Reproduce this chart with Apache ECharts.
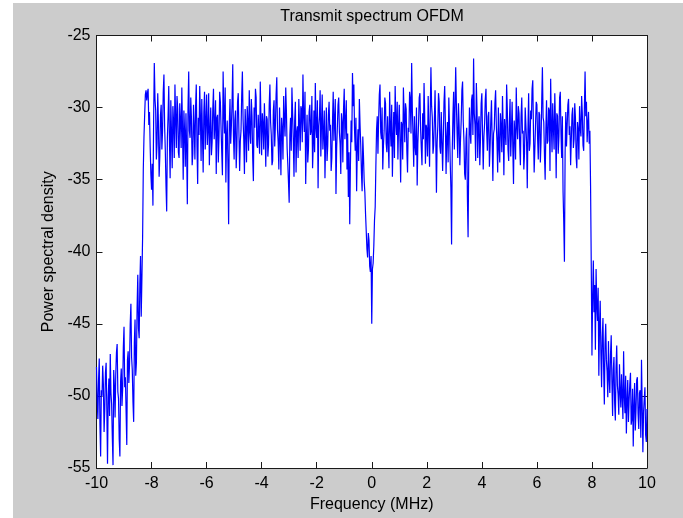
<!DOCTYPE html>
<html>
<head>
<meta charset="utf-8">
<script src="https://cdn.jsdelivr.net/npm/echarts@6/dist/echarts.min.js"></script>
<style>
  html, body { margin: 0; padding: 0; background: #fff; }
  #main { width: 683px; height: 518px; }
</style>
</head>
<body>
<div id="main"></div>
<script>
// frequency grid (MHz)
var freqStep = 0.025;
var lowSkirtStart = -10;
var bandStart = -8.3;
var highSkirtStart = 7.95;

// left out-of-band skirt, -10.000 .. -8.325
var psdLowSkirt = [
  -48.0, -50.3, -51.6, -48.9, -47.4, -52.0, -54.2, -49.6, -50.0, -47.9,
  -49.2, -52.5, -51.0, -48.4, -47.7, -50.9, -54.7, -50.1, -48.8, -51.4,
  -47.1, -49.8, -50.6, -52.9, -54.8, -48.2, -49.3, -51.5, -48.5, -47.0,
  -46.4, -49.7, -50.2, -53.0, -54.2, -49.0, -48.1, -50.7, -49.5, -46.6,
  -45.2, -49.4, -48.7, -51.1, -53.4, -47.5, -46.9, -49.1, -47.8, -45.0,
  -43.6, -47.3, -48.2, -50.4, -51.8, -46.3, -44.7, -48.6, -47.7, -43.9,
  -41.6, -45.3, -46.0, -42.2, -40.3, -44.5, -41.8, -39.0
];

// occupied band, -8.300 .. 7.925
var psdBand = [
  -34.3, -32.0, -30.5, -29.1, -28.8, -29.5, -29.0, -28.7, -31.2, -30.3, -32.7, -34.6,
  // -8
  -35.7, -33.9, -36.8, -31.0, -26.9, -29.4, -30.2, -33.6, -32.5, -29.0,
  -31.1, -34.8, -33.4, -30.5, -29.8, -32.9, -31.6, -28.9, -27.7, -31.3,
  -33.0, -35.4, -37.2, -32.1, -30.6, -28.5, -32.3, -34.9, -29.5, -31.8,
  -34.2, -29.9, -31.0, -33.5, -28.4, -30.8, -32.8, -29.2, -30.1, -33.1,
  // -7
  -33.5, -29.7, -30.9, -32.8, -28.6, -31.5, -35.0, -30.2, -31.7, -34.1,
  -30.4, -32.9, -36.7, -30.0, -27.5, -31.6, -32.1, -29.3, -30.8, -34.0,
  -33.2, -29.8, -31.4, -33.6, -29.9, -28.4, -32.6, -35.3, -30.7, -31.9,
  -28.5, -30.6, -33.7, -29.4, -31.9, -34.5, -30.3, -28.9, -32.9, -31.0,
  // -6
  -29.1, -32.6, -31.5, -29.0, -34.0, -31.7, -30.0, -33.3, -32.4, -30.1,
  -28.7, -32.2, -31.2, -29.5, -34.6, -30.7, -30.5, -33.8, -32.0, -28.9,
  -29.6, -31.4, -33.1, -34.7, -27.5, -30.3, -31.8, -28.6, -35.2, -32.0,
  -30.9, -33.9, -38.1, -31.2, -29.4, -32.5, -31.3, -29.7, -27.0, -31.9,
  // -5
  -33.6, -30.9, -30.2, -34.2, -32.7, -29.6, -29.0, -31.8, -34.4, -32.3,
  -31.6, -29.2, -27.5, -30.8, -32.2, -34.6, -30.1, -31.5, -33.8, -29.9,
  -31.0, -33.0, -28.8, -31.7, -32.5, -29.4, -30.6, -33.5, -35.1, -30.0,
  -31.4, -28.7, -29.3, -32.6, -32.8, -30.5, -30.4, -33.2, -28.2, -30.9,
  // -4
  -33.3, -30.4, -31.1, -32.9, -29.7, -31.6, -34.1, -30.6, -30.8, -33.4,
  -32.6, -29.8, -28.4, -31.0, -31.9, -34.0, -33.7, -30.2, -29.5, -32.7,
  -31.2, -29.1, -27.9, -31.5, -32.4, -34.3, -30.0, -32.1, -34.7, -30.7,
  -31.5, -33.6, -29.2, -30.9, -32.0, -28.6, -30.3, -32.8, -33.9, -35.2,
  // -3
  -36.6, -31.9, -30.7, -33.0, -28.6, -30.4, -32.3, -34.8, -30.9, -29.6,
  -34.5, -31.7, -31.3, -33.5, -29.4, -31.2, -33.0, -29.9, -30.1, -32.4,
  -27.7, -30.6, -31.7, -28.9, -35.3, -32.2, -30.5, -33.8, -32.9, -30.3,
  -29.8, -31.9, -31.6, -29.2, -34.2, -32.6, -30.2, -33.1, -28.3, -31.4,
  // -2
  -32.1, -29.5, -35.6, -31.3, -30.6, -28.8, -33.4, -31.1, -29.1, -32.9,
  -31.8, -30.2, -34.9, -32.4, -30.0, -33.7, -32.7, -30.5, -29.6, -31.6,
  -31.2, -34.4, -33.5, -30.9, -28.9, -32.3, -30.8, -29.4, -36.0, -32.8,
  -31.4, -29.8, -29.3, -31.7, -32.5, -34.6, -30.4, -31.0, -33.8, -30.1,
  // -1
  -28.7, -32.2, -31.0, -29.5, -34.3, -31.8, -36.2, -33.1, -38.1, -34.0,
  -30.9, -32.4, -27.6, -29.9, -28.4, -31.6, -33.0, -30.7, -35.8, -32.9,
  -31.5, -33.7, -29.4, -31.2, -32.6, -34.5, -35.8, -32.0, -33.4, -35.1,
  -35.9, -37.4, -38.6, -39.8, -40.4, -38.7, -39.2, -41.0, -41.4, -40.3,
  // 0 (DC notch)
  -45.0, -41.2, -40.8, -39.6, -37.8, -36.9, -34.0, -31.5, -30.6, -33.2,
  -30.8, -29.1, -28.4, -31.7, -32.2, -30.0, -34.3, -32.6, -31.6, -29.3,
  -29.7, -32.5, -33.1, -30.6, -30.5, -34.2, -28.9, -31.4, -32.7, -29.8,
  -34.8, -32.1, -30.3, -33.5, -28.5, -30.9, -31.9, -29.6, -33.6, -31.3,
  // 1
  -29.8, -32.3, -35.2, -31.0, -31.2, -33.6, -28.6, -30.5, -32.4, -29.7,
  -30.1, -33.0, -34.5, -31.4, -31.7, -28.9, -29.4, -31.8, -26.9, -30.2,
  -32.0, -34.1, -30.6, -32.7, -33.3, -30.0, -35.4, -32.5, -31.1, -29.3,
  -29.0, -31.5, -32.8, -34.0, -30.4, -32.2, -28.3, -30.7, -33.9, -31.2,
  // 2
  -31.5, -33.4, -29.2, -31.6, -34.1, -30.4, -27.2, -29.9, -30.7, -33.2,
  -32.6, -30.8, -28.8, -31.9, -35.9, -32.4, -31.3, -29.0, -29.6, -32.7,
  -33.2, -30.3, -30.2, -34.4, -32.1, -29.6, -28.5, -31.1, -34.6, -32.0,
  -31.0, -33.8, -29.3, -31.4, -33.7, -35.6, -39.5, -33.0, -30.5, -28.9,
  // 3
  -32.9, -30.1, -27.2, -29.8, -31.8, -33.5, -29.7, -31.3, -34.0, -32.2,
  -30.9, -28.8, -28.2, -31.0, -32.3, -34.6, -35.0, -32.1, -31.4, -36.2,
  -39.0, -33.3, -30.0, -31.7, -32.5, -29.5, -29.1, -31.9, -26.6, -30.4,
  -31.2, -33.7, -28.3, -30.2, -33.5, -31.1, -30.6, -34.0, -32.2, -29.7,
  // 4
  -29.0, -31.9, -34.3, -32.0, -31.1, -29.4, -28.7, -31.6, -33.0, -30.6,
  -30.3, -34.1, -32.7, -30.9, -29.5, -32.3, -35.1, -31.8, -31.5, -29.7,
  -28.8, -31.2, -32.4, -34.5, -30.0, -32.8, -33.8, -30.4, -31.3, -33.1,
  -29.2, -31.5, -34.7, -30.8, -30.7, -32.6, -28.4, -30.1, -32.9, -33.7,
  // 5
  -31.0, -29.4, -33.4, -31.7, -29.6, -32.8, -35.3, -30.9, -31.8, -33.6,
  -28.6, -31.3, -32.2, -29.9, -30.4, -32.5, -34.0, -30.6, -29.3, -31.8,
  -31.6, -34.3, -33.2, -30.0, -30.1, -32.4, -35.6, -31.5, -29.0, -33.0,
  -32.5, -30.2, -30.8, -28.7, -28.1, -31.6, -34.5, -32.9, -31.2, -29.6,
  // 6
  -29.8, -32.1, -33.6, -30.3, -30.5, -33.8, -32.4, -29.6, -27.2, -30.7,
  -31.0, -33.3, -35.0, -31.6, -29.5, -32.5, -32.3, -30.0, -30.2, -34.4,
  -28.0, -31.2, -33.1, -29.7, -31.4, -32.9, -29.0, -31.1, -34.9, -30.4,
  -30.6, -33.2, -32.0, -29.3, -28.9, -31.8, -33.5, -30.6, -35.8, -37.9,
  // 7
  -40.7, -33.1, -30.3, -32.7, -32.6, -29.8, -29.4, -31.9, -31.3, -34.0,
  -33.9, -30.5, -30.0, -32.8, -32.2, -29.7, -30.7, -33.4, -34.2, -31.0,
  -31.5, -33.6, -29.9, -31.4, -32.0, -29.2, -30.4, -32.6, -33.0, -30.1,
  -27.5, -30.6, -29.6, -32.4, -31.1, -30.3, -32.5, -31.6
];

// right out-of-band skirt, 7.950 .. 10.000
var psdHighSkirt = [
  -35.5, -41.0, -47.2, -43.1, -40.6, -44.2, -42.3, -46.8, -41.2, -43.7,
  -44.8, -42.5, -48.6, -45.1, -43.4, -47.0, -49.4, -45.9, -44.6, -48.1,
  -50.6, -46.4, -45.0, -47.5, -48.3, -50.1, -46.2, -48.8, -49.8, -47.1,
  -45.8, -49.0, -51.4, -48.2, -47.3, -50.5, -51.7, -48.0, -46.5, -49.3,
  -49.9, -51.3, -47.8, -49.7, -50.8, -48.5, -48.4, -51.6, -46.9, -50.0,
  -51.2, -48.6, -52.6, -50.4, -48.9, -51.8, -50.3, -49.2, -48.4, -52.0,
  -51.6, -49.5, -53.5, -50.7, -49.1, -52.4, -51.0, -48.9, -48.7, -51.2,
  -52.3, -49.8, -49.6, -52.9, -47.5, -50.6, -53.9, -51.1, -50.2, -49.4,
  -52.7, -53.2, -50.9
];

function toPairs(start, values) {
  return values.map(function (v, i) {
    return [Math.round((start + i * freqStep) * 1000) / 1000, v];
  });
}

var spectrum = toPairs(lowSkirtStart, psdLowSkirt)
  .concat(toPairs(bandStart, psdBand))
  .concat(toPairs(highSkirtStart, psdHighSkirt));

var font = 'Liberation Sans, Arial, sans-serif';
var axisColor = '#1a1a1a';

var chart = echarts.init(document.getElementById('main'));
chart.setOption({
  animation: false,
  backgroundColor: '#fff',
  graphic: [{
    type: 'rect',
    z: -10,
    shape: { x: 13, y: 3, width: 670, height: 515 },
    style: { fill: '#cccccc' },
    silent: true
  }],
  title: {
    text: 'Transmit spectrum OFDM',
    left: 372,
    top: 9,
    padding: 0,
    textAlign: 'center',
    textStyle: { fontFamily: font, fontSize: 16, fontWeight: 'normal', color: '#000' }
  },
  grid: {
    left: 96.5,
    right: 36,
    top: 35.5,
    bottom: 49,
    show: true,
    backgroundColor: '#fff',
    borderWidth: 0
  },
  xAxis: [{
    type: 'value',
    min: -10,
    max: 10,
    interval: 2,
    name: 'Frequency (MHz)',
    nameLocation: 'middle',
    nameGap: 29,
    nameTextStyle: { fontFamily: font, fontSize: 16, color: '#000' },
    axisLine: { onZero: false, lineStyle: { color: axisColor, width: 1 } },
    axisTick: { inside: true, length: 6, lineStyle: { color: axisColor } },
    axisLabel: { fontFamily: font, fontSize: 16, color: '#000', margin: 8 },
    splitLine: { show: false }
  }, {
    type: 'value',
    position: 'top',
    min: -10,
    max: 10,
    interval: 2,
    axisLine: { onZero: false, lineStyle: { color: axisColor, width: 1 } },
    axisTick: { inside: true, length: 6, lineStyle: { color: axisColor } },
    axisLabel: { show: false },
    splitLine: { show: false }
  }],
  yAxis: [{
    type: 'value',
    min: -55,
    max: -25,
    interval: 5,
    name: 'Power spectral density',
    nameLocation: 'middle',
    nameGap: 40,
    nameTextStyle: { fontFamily: font, fontSize: 16, color: '#000' },
    axisLine: { show: true, onZero: false, lineStyle: { color: axisColor, width: 1 } },
    axisTick: { show: true, inside: true, length: 6, lineStyle: { color: axisColor } },
    axisLabel: { fontFamily: font, fontSize: 16, color: '#000', margin: 6 },
    splitLine: { show: false }
  }, {
    type: 'value',
    position: 'right',
    min: -55,
    max: -25,
    interval: 5,
    axisLine: { show: true, onZero: false, lineStyle: { color: axisColor, width: 1 } },
    axisTick: { show: true, inside: true, length: 6, lineStyle: { color: axisColor } },
    axisLabel: { show: false },
    splitLine: { show: false }
  }],
  series: [{
    type: 'line',
    data: spectrum,
    showSymbol: false,
    sampling: null,
    lineStyle: { color: '#0000ff', width: 1.2 },
    itemStyle: { color: '#0000ff' }
  }]
});
</script>
</body>
</html>
